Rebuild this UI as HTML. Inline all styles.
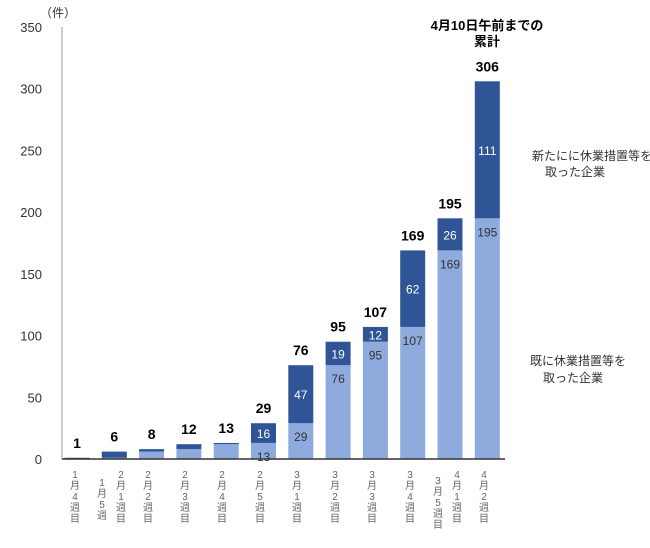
<!DOCTYPE html>
<html><head><meta charset="utf-8">
<style>
body{margin:0;background:#fff;font-family:"Liberation Sans","Noto Sans CJK JP",sans-serif;}
svg text{font-family:"Liberation Sans","Noto Sans CJK JP",sans-serif;}
</style></head>
<body>
<svg width="650" height="543" id="chart">
<text x="40" y="17" font-size="12" fill="#333">（件）</text>
<text x="532" y="160" font-size="12" fill="#333">新たにに休業措置等を</text>
<text x="545" y="176" font-size="12" fill="#333">取った企業</text>
<text x="530" y="365" font-size="12" fill="#333">既に休業措置等を</text>
<text x="543" y="382" font-size="12" fill="#333">取った企業</text>
<text x="487" y="30" font-size="13" font-weight="bold" text-anchor="middle" fill="#000">4月10日午前までの</text>
<text x="487" y="46" font-size="13" font-weight="bold" text-anchor="middle" fill="#000">累計</text>
</svg>
<script>
const categories=["1月4週目","1月5週","2月1週目","2月2週目","2月3週目","2月4週目","2月5週目","3月1週目","3月2週目","3月3週目","3月4週目","3月5週目","4月1週目","4月2週目"];
const labels=["1月4週目","1月5週","2月1週目","2月2週目","2月3週目","2月4週目","2月5週目","3月1週目","3月2週目","3月3週目","3月4週目","3月5週目・4月1週目","4月2週目"];
const existing=[0,1,6,8,12,13,29,76,95,107,169,195];
const added=[1,5,2,4,1,16,47,19,12,62,26,111];
const totals=[1,6,8,12,13,29,76,95,107,169,195,306];
const xLabels=[["1","月","4","週","目"],["1","月","5","週"],["2","月","1","週","目"],["2","月","2","週","目"],["2","月","3","週","目"],["2","月","4","週","目"],["2","月","5","週","目"],["3","月","1","週","目"],["3","月","2","週","目"],["3","月","3","週","目"],["3","月","4","週","目"],["3","月","5","週","目"],["4","月","1","週","目"],["4","月","2","週","目"]];
const yTicks=[0,50,100,150,200,250,300,350];
const svg=document.getElementById('chart');
const NS='http://www.w3.org/2000/svg';
const y0=459,yTop=27,yMax=350;
const y=v=>y0-(v/yMax)*(y0-yTop);
const barCenters=i=>77+i*37.3;
const bw=25;
function mk(t,a){const e=document.createElementNS(NS,t);for(const k in a)e.setAttribute(k,a[k]);svg.appendChild(e);return e;}
let ax=mk('line',{x1:62,y1:27,x2:62,y2:y0,stroke:'#999'});


yTicks.forEach(v=>{const t=mk('text',{x:42,y:y(v)+5,'font-size':13,'text-anchor':'end',fill:'#333'});t.textContent=v;

});
existing.forEach((e,i)=>{
 const cx=barCenters(i);
 const r1=mk('rect',{x:cx-bw/2,y:y(e),width:bw,height:y0-y(e),fill:'#8faadc'});
 
 
 const top=e+added[i];
 const r2=mk('rect',{x:cx-bw/2,y:y(top),width:bw,height:y(e)-y(top),fill:'#2f5597'});
 
 
 const t=mk('text',{x:cx,y:y(totals[i])-10,'font-size':14,'font-weight':'bold','text-anchor':'middle',fill:'#000'});t.textContent=totals[i];
 
 
 if(i>=5){
  const a=mk('text',{x:cx,y:(y(e)+y(top))/2+5,'font-size':12,'text-anchor':'middle',fill:'#fff'});a.textContent=added[i];
  
  
  const b=mk('text',{x:cx,y:y(e)+18,'font-size':12,'text-anchor':'middle',fill:'#333'});b.textContent=e;
  
  
 }
});
let xa=mk('line',{x1:62,y1:y0,x2:505,y2:y0,stroke:'#333','stroke-width':1.5});


const xPos=[75,102,121,148,185,222,260,297,335,372,410,438,457,484];
const xOff=[0,8,0,0,0,0,0,0,0,0,0,6,0,0];
xLabels.forEach((chars,i)=>{
 chars.forEach((c,j)=>{const t=mk('text',{x:xPos[i],y:478+xOff[i]+j*11,'font-size':10,'text-anchor':'middle',fill:'#666'});t.textContent=c;
 
 });
});
</script>
</body></html>
